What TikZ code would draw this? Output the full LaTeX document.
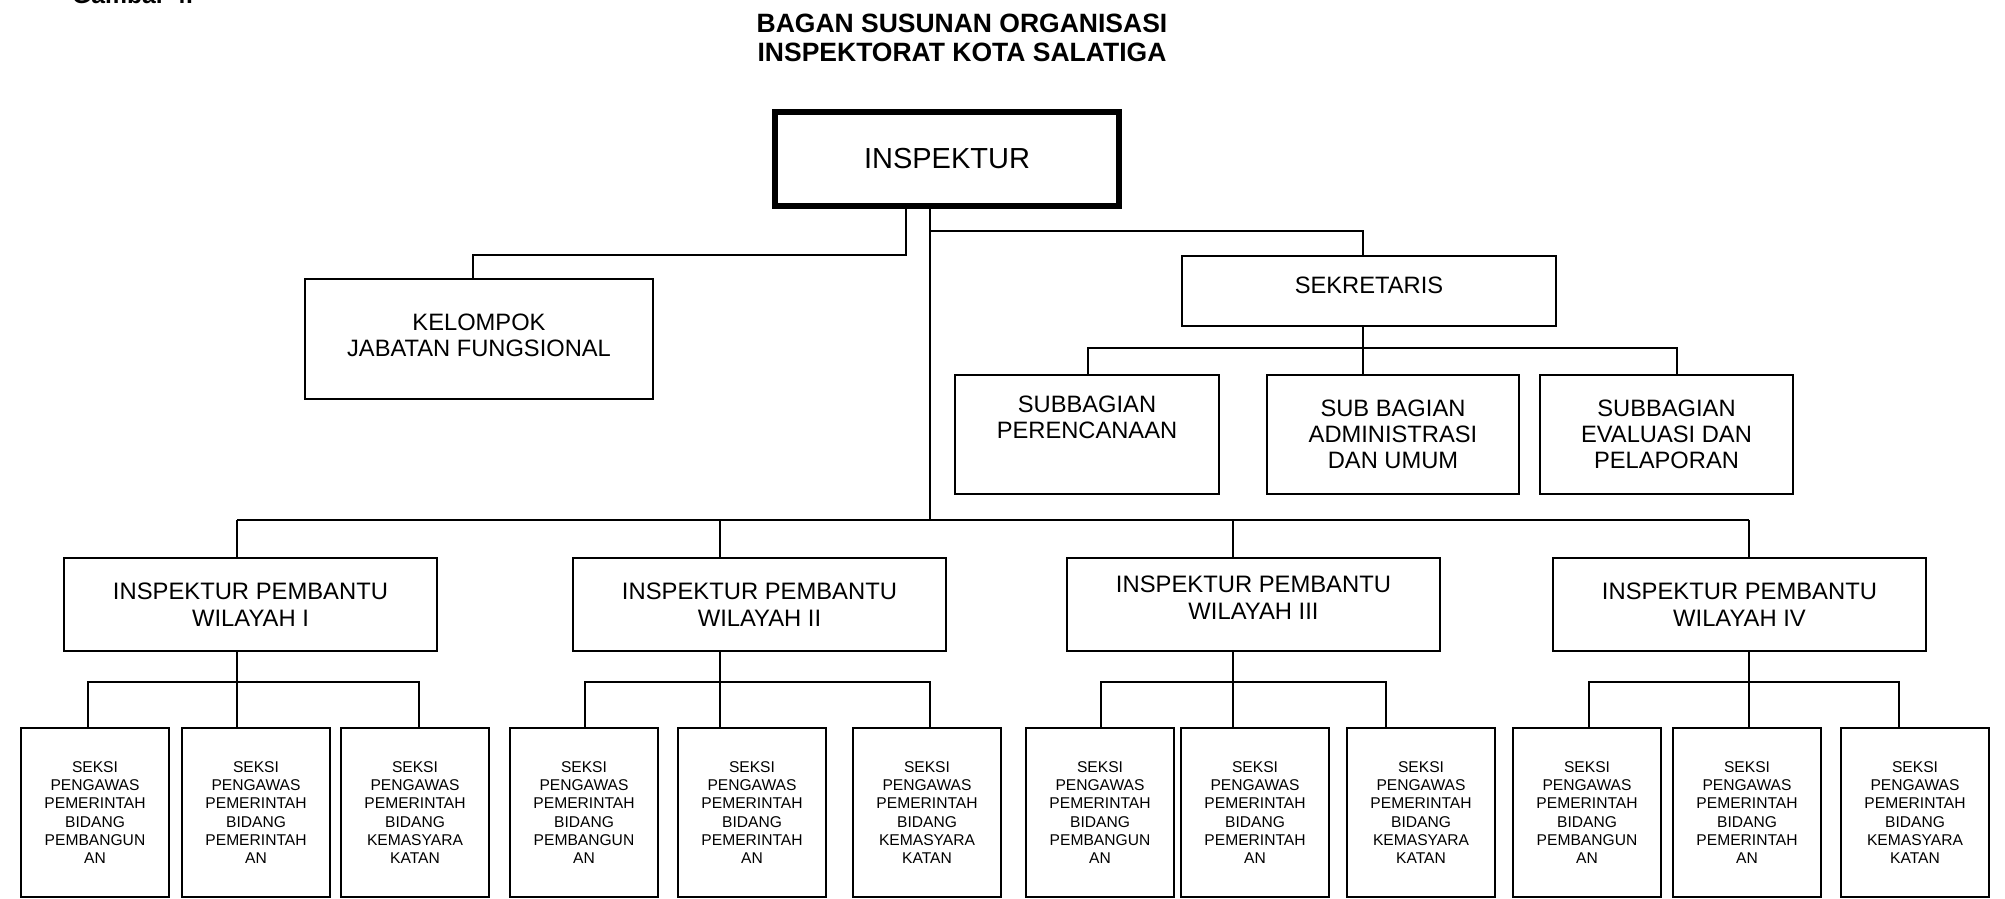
\documentclass[tikz,border=0pt]{standalone}
\usepackage{fontspec}
\setmainfont{Liberation Sans}
\begin{document}
\begin{tikzpicture}[x=1pt,y=-1pt,
  box/.style={draw, line width=2pt, inner sep=0pt, align=center},
  wire/.style={line width=2pt},
  midfont/.style={font=\fontsize{23.7}{26}\selectfont},
  ipbox/.style={box, minimum width=373pt, minimum height=93pt, font=\fontsize{23.8}{27}\selectfont},
  subbox/.style={box, minimum height=119pt, midfont},
  seksibox/.style={box, minimum width=148pt, minimum height=169pt, font=\fontsize{15.6}{18.2}\selectfont}]
\useasboundingbox (0,0) rectangle (2005,898);
\clip (0,0) rectangle (2005,898);

% caption (cut at the top edge) and title
\node[anchor=base west, inner sep=0pt, font=\bfseries\fontsize{24.7}{28}\selectfont] (gbr) at (72,3) {Gambar 4.};
\node[align=center, inner sep=0pt, font=\bfseries\fontsize{26.5}{29.5}\selectfont] (title) at (962,38)
  {BAGAN SUSUNAN ORGANISASI\\INSPEKTORAT KOTA SALATIGA};

% top level
\node[box, line width=6pt, minimum width=344pt, minimum height=94pt, font=\fontsize{29}{32}\selectfont] (insp) at (947,159) {INSPEKTUR};
\node[box, minimum width=348pt, minimum height=120pt, midfont] (kel) at (479,339) {};
\node[midfont, align=center, inner sep=0pt] (keltxt) at (479,335) {KELOMPOK\\JABATAN FUNGSIONAL};
\node[box, minimum width=374pt, minimum height=70pt] (sek) at (1369,291) {};
\node[midfont, inner sep=0pt] (sektxt) at (1369,285) {SEKRETARIS};

% subbagian
\node[subbox, minimum width=264pt] (sub1) at (1087,434.5) {SUBBAGIAN\\PERENCANAAN\\\strut};
\node[subbox, minimum width=252pt] (sub2) at (1393,434.5) {SUB BAGIAN\\ADMINISTRASI\\DAN UMUM};
\node[subbox, minimum width=253pt] (sub3) at (1666.5,434.5) {SUBBAGIAN\\EVALUASI DAN\\PELAPORAN};

% connectors, top part
\coordinate (k1) at (906,255);
\coordinate (k2) at (473,255);
\draw[wire] (insp.south -| k1) -- (k1) -- (k2) -- (kel.north -| k2);
\coordinate (bus) at (930,520);
\draw[wire] (insp.south -| bus) -- (bus);
\coordinate (sc) at (1363,231);
\draw[wire] (sc -| bus) -- (sc) -- (sek.north -| sc);
\coordinate (sb) at (1363,348);
\coordinate (sbl) at (1088,348);
\coordinate (sbr) at (1677,348);
\draw[wire] (sek.south -| sb) -- (sb) -- (sub2.north -| sb);
\draw[wire] (sub1.north -| sbl) -- (sbl) -- (sbr) -- (sub3.north -| sbr);

% inspektur pembantu groups
\foreach \g/\ipx/\ipt/\ax/\bx/\cx/\da/\db/\dc/\ys in {
  1/250.5/I/95/256/415/88/237/419/0,
  2/759.5/II/584/752/927/585/720/930/0,
  3/1253.5/III/1100/1255/1421/1101/1233/1386/7,
  4/1739.5/IV/1587/1747/1915/1589/1749/1899/0}{
  \node[ipbox] (ip\g) at (\ipx,604.5) {};
  \node[inner sep=0pt, align=center, font=\fontsize{23.8}{27}\selectfont] (ipt\g) at (\ipx,{604.5-\ys})
    {INSPEKTUR PEMBANTU\\WILAYAH \ipt};
  \node[seksibox] (sa\g) at (\ax,812.5) {SEKSI\\PENGAWAS\\PEMERINTAH\\BIDANG\\PEMBANGUN\\AN};
  \node[seksibox] (sb\g) at (\bx,812.5) {SEKSI\\PENGAWAS\\PEMERINTAH\\BIDANG\\PEMERINTAH\\AN};
  \node[seksibox] (sc\g) at (\cx,812.5) {SEKSI\\PENGAWAS\\PEMERINTAH\\BIDANG\\KEMASYARA\\KATAN};
  \coordinate (t\g) at (\db,520);
  \draw[wire] (t\g) -- (ip\g.north -| t\g);
  \coordinate (hm\g) at (\db,682);
  \coordinate (hl\g) at (\da,682);
  \coordinate (hr\g) at (\dc,682);
  \draw[wire] (ip\g.south -| hm\g) -- (hm\g) -- (sb\g.north -| hm\g);
  \draw[wire] (sa\g.north -| hl\g) -- (hl\g) -- (hr\g) -- (sc\g.north -| hr\g);
}
\draw[wire] (t1) -- (t4);
\end{tikzpicture}
\end{document}
